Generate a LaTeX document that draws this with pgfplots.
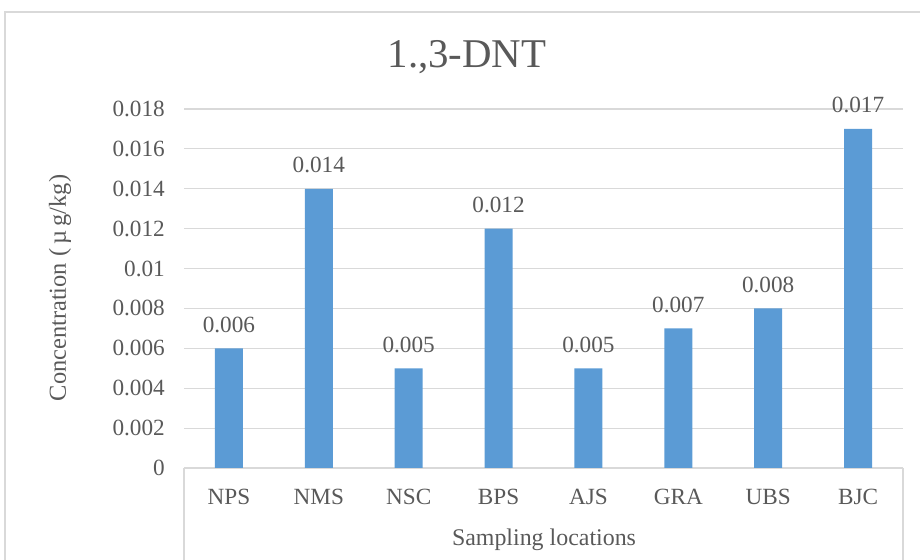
\documentclass[border=0pt]{standalone}
\usepackage{pgfplots}
\pgfplotsset{compat=1.18}
\usepackage{fontspec}
\setmainfont{Liberation Serif}
\definecolor{txt}{HTML}{595959}
\definecolor{barblue}{HTML}{5B9BD5}
\definecolor{gridc}{HTML}{D9D9D9}
\begin{document}
\begin{tikzpicture}[x=1bp,y=1bp]
\path[use as bounding box] (0,0) rectangle (920,560);
\draw[gridc, line width=1.2bp] (5,-5) -- (5,548) -- (930,548);
\begin{axis}[
  at={(184bp,92bp)}, anchor=south west,
  scale only axis, width=719bp, height=359bp,
  xmin=-0.5, xmax=7.5, ymin=0, ymax=0.018,
  axis x line*=bottom, axis y line*=left,
  x axis line style={gridc, line width=1.2bp},
  y axis line style={draw=none},
  major tick length=0pt, tick style={draw=none},
  ymajorgrids, grid style={gridc, line width=1.2bp},
  scaled y ticks=false,
  xtick={0,1,2,3,4,5,6,7},
  xticklabels={NPS,NMS,NSC,BPS,AJS,GRA,UBS,BJC},
  ytick={0,0.002,0.004,0.006,0.008,0.01,0.012,0.014,0.016,0.018},
  yticklabels={0,0.002,0.004,0.006,0.008,0.01,0.012,0.014,0.016,0.018},
  /pgf/number format/assume math mode=true,
  ticklabel style={font=\fontsize{23.3}{27}\selectfont, text=txt, inner sep=0pt},
  yticklabel style={anchor=east, xshift=-19bp},
  xticklabel style={anchor=base, yshift=-37bp},
  ybar, bar width=28bp,
  point meta=explicit symbolic,
  nodes near coords,
  every node near coord/.append style={font=\fontsize{23.3}{27}\selectfont, text=txt, anchor=base, inner sep=0pt, yshift=16bp},
  clip=false,
]
\addplot[fill=barblue, draw=none] coordinates {
  (0,0.006) [0.006]
  (1,0.014) [0.014]
  (2,0.005) [0.005]
  (3,0.012) [0.012]
  (4,0.005) [0.005]
  (5,0.007) [0.007]
  (6,0.008) [0.008]
  (7,0.017) [0.017]
};
\end{axis}
\draw[gridc, line width=1.2bp] (184,92) -- (184,-5);
\draw[gridc, line width=1.2bp] (903,92) -- (903,-5);
\node[anchor=base, text=txt, font=\fontsize{24}{28}\selectfont, inner sep=0pt] at (544,14) {Sampling locations};
\node[anchor=base, text=txt, font=\fontsize{41}{48}\selectfont, inner sep=0pt] at (467,492) {1.,3-DNT};
\node[rotate=90, text=txt, font=\fontsize{24.5}{29}\selectfont, inner sep=0pt] at (60,272) {Concentration (\,µ\,g/kg)};
\end{tikzpicture}
\end{document}
